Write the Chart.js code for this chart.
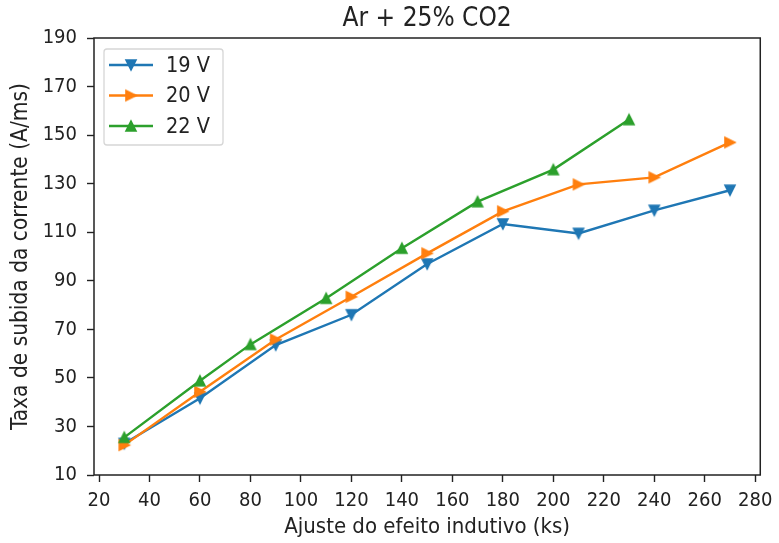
<!DOCTYPE html>
<html>
<head>
<meta charset="utf-8">
<script src="https://cdn.jsdelivr.net/npm/chart.js@4/dist/chart.umd.min.js"></script>
<style>
  html, body { margin: 0; padding: 0; background: #fff; }
  canvas { display: block; }
</style>
</head>
<body>
<canvas id="myChart" width="779" height="543"></canvas>
<script>
// data
const xTicks = [20, 40, 60, 80, 100, 120, 140, 160, 180, 200, 220, 240, 260, 280];
const yTicks = [10, 30, 50, 70, 90, 110, 130, 150, 170, 190];

const x19 = [30, 60, 90, 120, 150, 180, 210, 240, 270];
const y19 = [23, 41.6, 63.5, 76, 96.9, 113.4, 109.5, 119, 127.3];

const x20 = [30, 60, 90, 120, 150, 180, 210, 240, 270];
const y20 = [22.3, 44.3, 65.8, 83.4, 101.3, 118.6, 129.7, 132.6, 147];

const x22 = [30, 60, 80, 110, 140, 170, 200, 230];
const y22 = [25.5, 48.8, 63.8, 82.8, 103.4, 122.6, 135.8, 156.4];

const seriesNames = ['19 V', '20 V', '22 V'];
const colors = ['#1f77b4', '#ff7f0e', '#2ca02c'];

const FONT = '"DejaVu Sans Condensed", "DejaVu Sans", sans-serif';

// matplotlib-like triangle markers
function tri(color, angle) {
  const c = document.createElement('canvas');
  c.width = 18; c.height = 18;
  const g = c.getContext('2d');
  g.translate(9, 9);
  g.rotate(angle);
  g.beginPath();
  g.moveTo(0, -5); g.lineTo(5, 5); g.lineTo(-5, 5); g.closePath();
  g.fillStyle = color; g.fill();
  g.lineWidth = 1.6; g.strokeStyle = color; g.lineJoin = 'miter';
  g.stroke();
  return c;
}
const markers = [tri(colors[0], Math.PI), tri(colors[1], Math.PI / 2), tri(colors[2], 0)];

function pts(xs, ys) {
  return xs.map((x, i) => ({ x: x, y: ys[i] }));
}

function ds(i, xs, ys) {
  return {
    label: seriesNames[i],
    data: pts(xs, ys),
    borderColor: colors[i],
    backgroundColor: colors[i],
    borderWidth: 2.4,
    pointStyle: markers[i],
    pointRadius: 6,
    tension: 0,
    order: 3 - i
  };
}

const frame = {
  id: 'frame',
  afterLayout(chart) {
    const t = chart.titleBlock;
    if (t) { t.left = chart.chartArea.left; t.right = chart.chartArea.right; }
  },
  afterDatasetsDraw(chart) {
    const { ctx, chartArea: a } = chart;
    ctx.save();
    ctx.strokeStyle = '#222';
    ctx.lineWidth = 1.5;
    ctx.strokeRect(a.left, a.top, a.right - a.left, a.bottom - a.top);
    ctx.restore();
  }
};

const legendBox = {
  id: 'legendBox',
  afterDraw(chart) {
    const { ctx, chartArea: a } = chart;
    const bx = a.left + 10, by = a.top + 11, bw = 119, bh = 96;
    ctx.save();
    ctx.beginPath();
    ctx.roundRect(bx, by, bw, bh, 3);
    ctx.fillStyle = 'rgba(255,255,255,0.8)';
    ctx.fill();
    ctx.strokeStyle = 'rgba(204,204,204,0.8)';
    ctx.lineWidth = 1.3;
    ctx.stroke();
    ctx.font = '21.5px ' + FONT;
    ctx.textBaseline = 'middle';
    ctx.fillStyle = '#222';
    seriesNames.forEach((name, i) => {
      const y = by + 16 + i * 30.5;
      ctx.beginPath();
      ctx.moveTo(bx + 5, y);
      ctx.lineTo(bx + 49, y);
      ctx.strokeStyle = colors[i];
      ctx.lineWidth = 2.4;
      ctx.stroke();
      const m = markers[i];
      ctx.drawImage(m, bx + 27 - m.width / 2, y - m.height / 2);
      ctx.fillText(name, bx + 62, y + 1);
    });
    ctx.restore();
  }
};

const tickFont = { family: FONT, size: 20 };
const labelFont = { family: FONT, size: 22 };

new Chart(document.getElementById('myChart').getContext('2d'), {
  type: 'line',
  data: {
    datasets: [ds(0, x19, y19), ds(1, x20, y20), ds(2, x22, y22)]
  },
  options: {
    responsive: false,
    animation: false,
    layout: { padding: { left: 0, right: 15, top: 0, bottom: 0 } },
    plugins: {
      legend: { display: false },
      tooltip: { enabled: false },
      title: {
        display: true,
        text: 'Ar + 25% CO2',
        color: '#222',
        font: { family: FONT, size: 26, weight: 'normal' },
        padding: { top: 3.4, bottom: 3.4 }
      }
    },
    scales: {
      x: {
        type: 'linear',
        min: 18,
        max: 282,
        afterBuildTicks: s => { s.ticks = xTicks.map(v => ({ value: v })); },
        afterFit: s => { s.height = 68; },
        ticks: { color: '#222', font: tickFont, padding: 6.5, maxRotation: 0, autoSkip: false },
        grid: { drawOnChartArea: false, tickLength: 7, tickColor: '#222', tickWidth: 1.4 },
        border: { display: false },
        title: {
          display: true,
          text: 'Ajuste do efeito indutivo (ks)',
          color: '#222',
          font: labelFont,
          padding: { top: 0, bottom: 3 }
        }
      },
      y: {
        type: 'linear',
        min: 10,
        max: 190,
        afterBuildTicks: s => { s.ticks = yTicks.map(v => ({ value: v })); },
        afterFit: s => { s.width = 94; },
        ticks: { color: '#222', font: tickFont, padding: 10, autoSkip: false },
        grid: { drawOnChartArea: false, tickLength: 7, tickColor: '#222', tickWidth: 1.4 },
        border: { display: false },
        title: {
          display: true,
          text: 'Taxa de subida da corrente (A/ms)',
          color: '#222',
          font: { family: FONT, size: 22.5 },
          padding: { top: 8, bottom: 0 }
        }
      }
    }
  },
  plugins: [frame, legendBox]
});
</script>
</body>
</html>
